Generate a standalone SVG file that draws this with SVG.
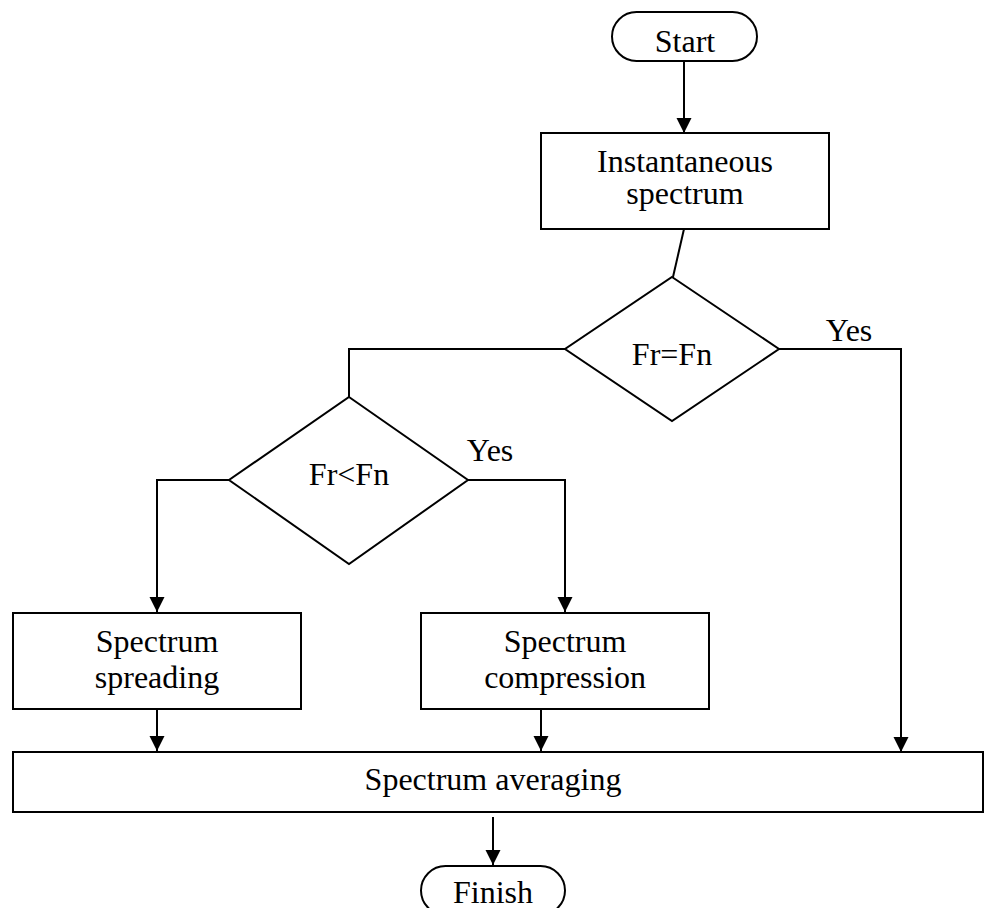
<svg xmlns="http://www.w3.org/2000/svg" width="984" height="908" viewBox="0 0 984 908">
<style>
.shape{fill:#fff;stroke:#000;stroke-width:2}
.line{fill:none;stroke:#000;stroke-width:2}
text{font-family:"Liberation Serif","Times New Roman",serif;font-size:32px;fill:#000;text-anchor:middle}
</style>
<defs>
<marker id="arr" markerUnits="userSpaceOnUse" markerWidth="16" markerHeight="16" refX="15" refY="7.5" orient="auto">
<path d="M0,0 L15,7.5 L0,15 Z" fill="#000"/>
</marker>
</defs>
<rect width="984" height="908" fill="#fff"/>
<g id="connectors">
<path class="line" d="M684,61 V133" marker-end="url(#arr)"/>
<path class="line" d="M684,229 L673,277"/>
<path class="line" d="M779,349 H901 V752" marker-end="url(#arr)"/>
<path class="line" d="M565,349 H349 V397"/>
<path class="line" d="M229,480 H157 V612" marker-end="url(#arr)"/>
<path class="line" d="M468,480 H565 V612" marker-end="url(#arr)"/>
<path class="line" d="M157,709 V751" marker-end="url(#arr)"/>
<path class="line" d="M541,709 V751" marker-end="url(#arr)"/>
<path class="line" d="M493,817 V865" marker-end="url(#arr)"/>
<text x="849" y="341">Yes</text>
<text x="490" y="461">Yes</text>
</g>
<g id="start">
<rect class="shape" x="612" y="12" width="145" height="49" rx="24.5"/>
<text x="685" y="52">Start</text>
</g>
<g id="instantaneous">
<rect class="shape" x="541" y="133" width="288" height="96"/>
<text x="685" y="172">Instantaneous</text>
<text x="685" y="204">spectrum</text>
</g>
<g id="d1">
<polygon class="shape" points="672,277 779,349 672,421 565,349"/>
<text x="672" y="365">Fr=Fn</text>
</g>
<g id="d2">
<polygon class="shape" points="349,397 468,480 349,564 229,480"/>
<text x="349" y="485">Fr&lt;Fn</text>
</g>
<g id="spreading">
<rect class="shape" x="13" y="613" width="288" height="96"/>
<text x="157" y="652">Spectrum</text>
<text x="157" y="688">spreading</text>
</g>
<g id="compression">
<rect class="shape" x="421" y="613" width="288" height="96"/>
<text x="565" y="652">Spectrum</text>
<text x="565" y="688">compression</text>
</g>
<g id="averaging">
<rect class="shape" x="13" y="752" width="970" height="60"/>
<text x="493" y="790">Spectrum averaging</text>
</g>
<g id="finish">
<rect class="shape" x="421" y="866" width="144" height="49" rx="24.5"/>
<text x="493" y="903">Finish</text>
</g>
</svg>
